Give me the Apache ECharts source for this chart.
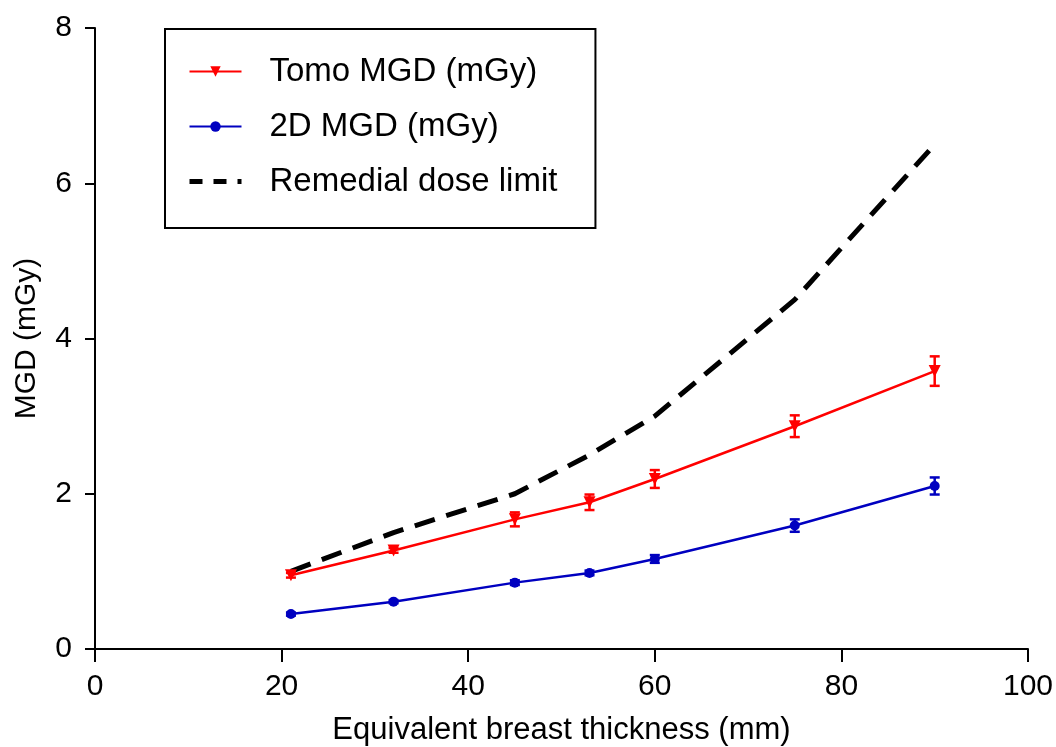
<!DOCTYPE html>
<html>
<head>
<meta charset="utf-8">
<script src="https://cdn.jsdelivr.net/npm/echarts@6/dist/echarts.min.js"></script>
<style>
html,body{margin:0;padding:0;background:#fff;}
#chart{width:1056px;height:747px;}
</style>
</head>
<body>
<div id="chart"></div>
<script>
const thickness = [21, 32, 45, 53, 60, 75, 90];
const tomoMGD = [0.95, 1.27, 1.67, 1.89, 2.19, 2.87, 3.58];
const tomoErr = [0.03, 0.03, 0.09, 0.10, 0.115, 0.14, 0.19];
const mgd2D = [0.45, 0.61, 0.855, 0.98, 1.16, 1.59, 2.10];
const err2D = [0.02, 0.02, 0.03, 0.03, 0.05, 0.08, 0.11];
const remedial = [1.0, 1.5, 2.0, 2.5, 3.0, 4.5, 6.5];
const xTicks = [0, 20, 40, 60, 80, 100];
const yTicks = [0, 2, 4, 6, 8];

const FONT = 'Liberation Sans, Arial, sans-serif';
const chart = echarts.init(document.getElementById('chart'));

function pairs(xs, ys) { return xs.map((x, i) => [x, ys[i]]); }
function errData(xs, ys, es) { return xs.map((x, i) => [x, ys[i], es[i]]); }

function errRender(color) {
  return function (params, api) {
    const x = api.value(0), y = api.value(1), e = api.value(2);
    const top = api.coord([x, y + e]);
    const bot = api.coord([x, y - e]);
    const hw = 5;
    const style = { stroke: color, lineWidth: 2.5 };
    return {
      type: 'group',
      children: [
        { type: 'line', shape: { x1: top[0], y1: top[1], x2: bot[0], y2: bot[1] }, style },
        { type: 'line', shape: { x1: top[0] - hw, y1: top[1], x2: top[0] + hw, y2: top[1] }, style },
        { type: 'line', shape: { x1: bot[0] - hw, y1: bot[1], x2: bot[0] + hw, y2: bot[1] }, style }
      ]
    };
  };
}

const axisLine = { show: true, lineStyle: { color: '#000', width: 2 } };

chart.setOption({
  animation: false,
  backgroundColor: '#fff',
  grid: { left: 95, right: 28, top: 28, bottom: 98, containLabel: false, outerBoundsMode: 'none' },
  legend: {
    left: 165, top: 29,
    orient: 'vertical',
    backgroundColor: '#fff',
    borderColor: '#000', borderWidth: 2,
    padding: [26, 38, 30, 22],
    itemGap: 22,
    itemWidth: 52, itemHeight: 13,
    textStyle: { fontFamily: FONT, fontSize: 33, lineHeight: 33, color: '#000', padding: [0, 0, 0, 23] },
    data: [
      { name: 'Tomo MGD (mGy)', lineStyle: { width: 2 } },
      { name: '2D MGD (mGy)', lineStyle: { width: 2 } },
      { name: 'Remedial dose limit', itemStyle: { color: 'rgba(0,0,0,0)', borderWidth: 0 },
        lineStyle: { width: 5, type: [13, 11], color: '#000' } }
    ]
  },
  xAxis: {
    type: 'value', min: 0, max: 100, interval: 20,
    name: 'Equivalent breast thickness (mm)',
    nameLocation: 'middle', nameGap: 66,
    nameTextStyle: { fontFamily: FONT, fontSize: 31, color: '#000' },
    axisLine,
    axisTick: { show: true, length: 13, lineStyle: { color: '#000', width: 2 } },
    axisLabel: { fontFamily: FONT, fontSize: 30, color: '#000', margin: 23,
      formatter: v => xTicks.includes(v) ? String(v) : '' },
    splitLine: { show: false }
  },
  yAxis: {
    type: 'value', min: 0, max: 8, interval: 2,
    name: 'MGD (mGy)',
    nameLocation: 'middle', nameGap: 53, nameRotate: 90,
    nameTextStyle: { fontFamily: FONT, fontSize: 30, color: '#000' },
    axisLine,
    axisTick: { show: true, length: 10, lineStyle: { color: '#000', width: 2 } },
    axisLabel: { fontFamily: FONT, fontSize: 30, color: '#000', margin: 23,
      formatter: v => yTicks.includes(v) ? String(v) : '' },
    splitLine: { show: false }
  },
  series: [
    {
      name: 'Remedial dose limit', type: 'line', data: pairs(thickness, remedial),
      showSymbol: false, symbol: 'none', z: 2,
      lineStyle: { color: '#000', width: 5, type: [21, 12] },
      itemStyle: { color: '#000' }
    },
    {
      name: 'Tomo MGD (mGy)', type: 'line', data: pairs(thickness, tomoMGD),
      symbol: 'triangle', symbolRotate: 180, symbolSize: 12, z: 3,
      lineStyle: { color: '#ff0000', width: 2.5 },
      itemStyle: { color: '#ff0000' }
    },
    {
      name: '2D MGD (mGy)', type: 'line', data: pairs(thickness, mgd2D),
      symbol: 'circle', symbolSize: 10, z: 3,
      lineStyle: { color: '#0000c0', width: 2.5 },
      itemStyle: { color: '#0000c0' }
    },
    {
      type: 'custom', data: errData(thickness, tomoMGD, tomoErr), z: 4,
      renderItem: errRender('#ff0000'), silent: true
    },
    {
      type: 'custom', data: errData(thickness, mgd2D, err2D), z: 4,
      renderItem: errRender('#0000c0'), silent: true
    }
  ]
});
</script>
</body>
</html>
